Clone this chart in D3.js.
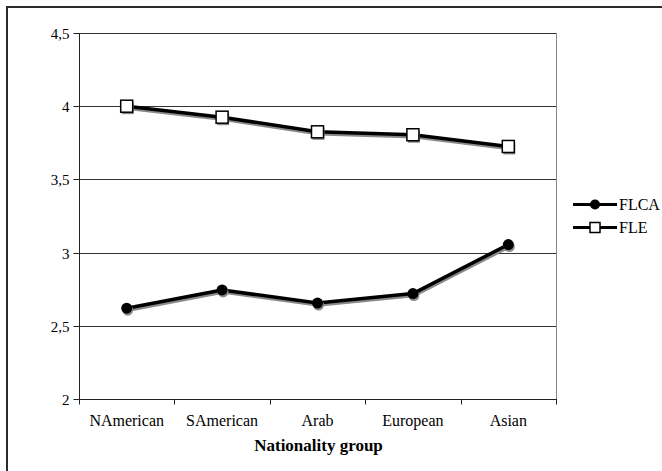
<!DOCTYPE html>
<html>
<head>
<meta charset="utf-8">
<script src="https://cdn.jsdelivr.net/npm/d3@7"></script>
<style>
  html, body { margin: 0; padding: 0; background: #fff; }
  svg { display: block; }
</style>
</head>
<body>
<svg id="chart" width="662" height="471"></svg>
<script>
const categories = ["NAmerican", "SAmerican", "Arab", "European", "Asian"];
const flca = [2.62, 2.745, 2.655, 2.72, 3.055];
const fle = [4.0, 3.925, 3.825, 3.805, 3.725];
const yTicks = [2, 2.5, 3, 3.5, 4, 4.5];
const seriesNames = ["FLCA", "FLE"];
const xTitle = "Nationality group";

const FONT = "Liberation Serif";
const svg = d3.select("#chart");
const W = 662, H = 471;
const m = { left: 79, top: 33, right: 556, bottom: 399 };

function txt(parent) {
  return parent.append("text").attr("font-family", FONT).attr("fill", "#000");
}

// outer frame (only left and top visible in the crop)
svg.append("path")
  .attr("d", `M7,${H} L7,7 L${W},7`)
  .attr("fill", "none").attr("stroke", "#2b2b2b").attr("stroke-width", 2);

const x = d3.scaleBand().domain(categories).range([m.left, m.right]);
const y = d3.scaleLinear().domain([2, 4.5]).range([m.bottom, m.top]);

// gridlines
svg.append("g").selectAll("line").data(yTicks.filter(d => d > 2)).join("line")
  .attr("x1", m.left).attr("x2", m.right)
  .attr("y1", d => Math.round(y(d)) + 0.5).attr("y2", d => Math.round(y(d)) + 0.5)
  .attr("stroke", "#333").attr("stroke-width", 1);

// plot right border
svg.append("line")
  .attr("x1", m.right + 0.5).attr("x2", m.right + 0.5)
  .attr("y1", m.top).attr("y2", m.bottom)
  .attr("stroke", "#888").attr("stroke-width", 1);

// y axis (ticks via scale, labels drawn as plain text)
const fmt = d => String(d).replace(".", ",");
const yAxis = svg.append("g").attr("transform", `translate(${m.left + 0.5},0)`);
yAxis.append("line").attr("x1", 0).attr("x2", 0).attr("y1", m.top).attr("y2", m.bottom + 1).attr("stroke", "#222");
yTicks.forEach(t => {
  const ty = Math.round(y(t)) + 0.5;
  yAxis.append("line").attr("x1", -6).attr("x2", 0).attr("y1", ty).attr("y2", ty).attr("stroke", "#222");
  txt(yAxis).attr("x", -10).attr("y", ty + 5).attr("text-anchor", "end").attr("font-size", 15).text(fmt(t));
});

// x axis with ticks at band boundaries
const xAxisG = svg.append("g").attr("transform", `translate(0,${m.bottom + 0.5})`);
xAxisG.append("line").attr("x1", m.left).attr("x2", m.right + 1).attr("stroke", "#222");
const bounds = categories.map(c => x(c)).concat([x(categories[categories.length - 1]) + x.bandwidth()]);
bounds.forEach(b => {
  xAxisG.append("line").attr("x1", Math.round(b) + 0.5).attr("x2", Math.round(b) + 0.5)
    .attr("y1", 0).attr("y2", 5).attr("stroke", "#222");
});
categories.forEach(c => {
  txt(xAxisG).attr("x", x(c) + x.bandwidth() / 2).attr("y", 26)
    .attr("text-anchor", "middle").attr("font-size", 16).text(c);
});

// axis title
txt(svg).attr("x", (m.left + m.right) / 2 + 1).attr("y", 451)
  .attr("text-anchor", "middle").attr("font-size", 17).attr("font-weight", "bold")
  .text(xTitle);

const cx = d => x(d) + x.bandwidth() / 2;
const line = d3.line().x((d, i) => cx(categories[i])).y(d => y(d));

function drawSeries(vals, type) {
  const g = svg.append("g");
  const sh = g.append("g").attr("transform", "translate(1,2)");
  sh.append("path").attr("d", line(vals)).attr("fill", "none")
    .attr("stroke", "#8a8a8a").attr("stroke-width", 3.5);
  g.append("path").attr("d", line(vals)).attr("fill", "none")
    .attr("stroke", "#000").attr("stroke-width", 3.5).attr("stroke-linejoin", "round");
  vals.forEach((v, i) => {
    const px = cx(categories[i]), py = y(v);
    if (type === "circle") {
      g.append("circle").attr("cx", px + 1).attr("cy", py + 2).attr("r", 5.5).attr("fill", "#8a8a8a");
      g.append("circle").attr("cx", px).attr("cy", py).attr("r", 5.5).attr("fill", "#000");
    } else {
      g.append("rect").attr("x", px - 6 + 1).attr("y", py - 6 + 2).attr("width", 12).attr("height", 12).attr("fill", "#8a8a8a");
      g.append("rect").attr("x", px - 6).attr("y", py - 6).attr("width", 12).attr("height", 12)
        .attr("fill", "#fff").attr("stroke", "#000").attr("stroke-width", 1.5);
    }
  });
}
drawSeries(flca, "circle");
drawSeries(fle, "square");

// legend
const leg = svg.append("g");
seriesNames.forEach((name, i) => {
  const ly = 204.5 + i * 23;
  leg.append("line").attr("x1", 573).attr("x2", 617).attr("y1", ly).attr("y2", ly)
    .attr("stroke", "#000").attr("stroke-width", 3);
  if (i === 0) {
    leg.append("circle").attr("cx", 595).attr("cy", ly).attr("r", 5).attr("fill", "#000");
  } else {
    leg.append("rect").attr("x", 590).attr("y", ly - 5).attr("width", 10).attr("height", 10)
      .attr("fill", "#fff").attr("stroke", "#000").attr("stroke-width", 1.5);
  }
  txt(leg).attr("x", 619).attr("y", ly + 5.5).attr("font-size", 16).text(name);
});
</script>
</body>
</html>
